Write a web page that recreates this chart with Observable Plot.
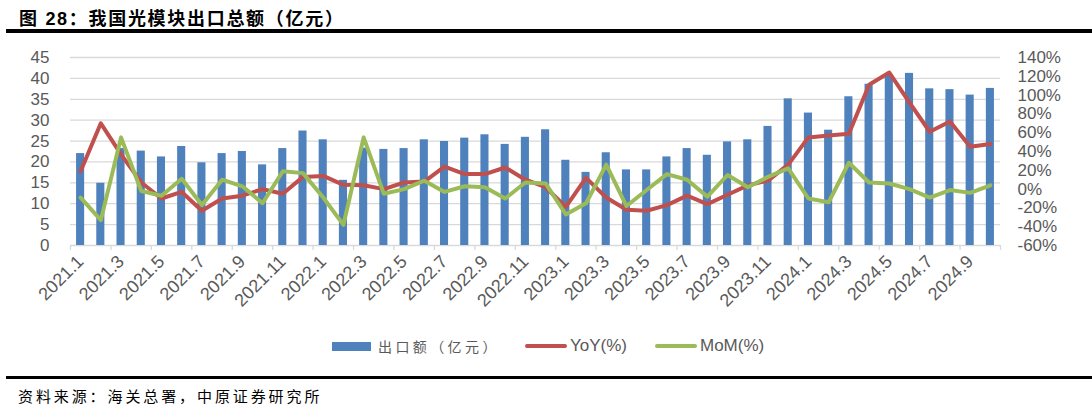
<!DOCTYPE html>
<html><head><meta charset="utf-8">
<script src="https://cdn.jsdelivr.net/npm/d3@7"></script>
<script src="https://cdn.jsdelivr.net/npm/@observablehq/plot@0.6"></script>
<style>
body{margin:0;width:1092px;height:410px;background:#fff;position:relative;overflow:hidden;font-family:"Liberation Sans",Arial,"Noto Sans CJK SC",sans-serif;}
#title{position:absolute;left:19px;top:4px;font-size:18px;font-weight:bold;font-family:"Liberation Sans","Noto Sans CJK SC",sans-serif;letter-spacing:1.7px;color:#000;white-space:nowrap}
.rule{position:absolute;left:6px;right:0;background:#000}
#chart{position:absolute;left:0;top:35px}
#chart svg{overflow:visible}
.lg{position:absolute;white-space:nowrap}
#source{position:absolute;left:18px;top:385px;font-size:15px;letter-spacing:2.9px;font-family:"Noto Sans CJK SC",sans-serif;color:#000;white-space:nowrap}
</style></head>
<body>
<div id="title">图 28：我国光模块出口总额（亿元）</div>
<div class="rule" style="top:29px;height:4px"></div>
<div id="chart"></div>
<div class="lg" style="left:332px;top:342px;width:39px;height:9px;background:#4F81BD"></div>
<div class="lg" style="left:378px;top:336px;font-size:14px;letter-spacing:3.4px;color:#595959;font-family:'Noto Sans CJK SC',sans-serif">出口额（亿元）</div>
<div class="lg" style="left:525px;top:344px;width:42px;height:4px;border-radius:2px;background:#C0504D"></div>
<div class="lg" style="left:570px;top:336px;font-size:17px;color:#595959">YoY(%)</div>
<div class="lg" style="left:655px;top:344px;width:42px;height:4px;border-radius:2px;background:#9BBB59"></div>
<div class="lg" style="left:700px;top:336px;font-size:17px;color:#595959">MoM(%)</div>
<div class="rule" style="top:376px;height:3px"></div>
<div id="source">资料来源：海关总署，中原证券研究所</div>
<script>
const months = ["2021.1","2021.2","2021.3","2021.4","2021.5","2021.6","2021.7","2021.8","2021.9","2021.10","2021.11","2021.12",
"2022.1","2022.2","2022.3","2022.4","2022.5","2022.6","2022.7","2022.8","2022.9","2022.10","2022.11","2022.12",
"2023.1","2023.2","2023.3","2023.4","2023.5","2023.6","2023.7","2023.8","2023.9","2023.10","2023.11","2023.12",
"2024.1","2024.2","2024.3","2024.4","2024.5","2024.6","2024.7","2024.8","2024.9","2024.10"];
const exportValue = [22.0,14.9,23.2,22.6,21.2,23.7,19.8,22.0,22.5,19.3,
23.2,27.4,25.3,15.6,23.3,23.0,23.2,25.3,24.9,25.7,
26.5,24.2,25.9,27.7,20.4,17.5,22.2,18.1,18.1,21.2,
23.2,21.6,24.8,25.3,28.5,35.1,31.7,27.6,35.6,38.6,
40.8,41.2,37.5,37.3,36.0,37.6];
const yoy = [19,70,37,7,-10,-3,-23,-10,-7,0,
-5,13,14,4.5,4,0,7,8,24,16,
16,23,10,2,-19,12,-9,-22,-23,-17,
-7,-16,-6,4,9,26,55,57,59,111,
124,92,61,72,45,48];
const mom = [-9,-33,55,-2,-7,11,-17,10,3,-15,
19,17,-9,-38,55,-5,0,9,-3,3,
2,-10,7,6,-27,-15,26,-18,-1,16,
10,-8,15,2,13,22,-10,-14,28,7,
6,0,-9,-1,-4,4];
const leftTicks = [0,5,10,15,20,25,30,35,40,45];
const pctTicks = [-60,-40,-20,0,20,40,60,80,100,120,140];

// map percent (right axis -60..140) onto left axis units (0..45)
const k = 45/200;
const toLeft = p => (p + 60) * k;

const data = months.map((m,i) => ({m, i, v: exportValue[i], yoy: yoy[i], mom: mom[i]}));
const boundaryTicks = d3.range(0, months.length + 1, 2);
const labelTicks = d3.range(0, months.length, 2).map(i => i + 0.5);

const chart = Plot.plot({
  width: 1092, height: 300,
  marginLeft: 70, marginRight: 92, marginTop: 22, marginBottom: 90,
  x: {domain: [0, months.length], axis: null},
  y: {domain: [0, 45], axis: null},
  style: {fontFamily: '"Liberation Sans", Arial, sans-serif', background: "transparent", color: "#595959"},
  marks: [
    Plot.gridY(leftTicks.filter(t => t > 0), {stroke: "#d9d9d9", strokeOpacity: 1, strokeWidth: 1.3}),
    Plot.ruleY([0], {stroke: "#d9d9d9", strokeWidth: 1.3}),
    Plot.axisX(boundaryTicks, {tickSize: 5, tickFormat: () => "", stroke: "#d9d9d9", strokeWidth: 1.3}),
    Plot.axisX(labelTicks, {tickSize: 0, tickPadding: 13, tickRotate: -45, fontSize: 18, fill: "#595959",
      tickFormat: d => months[Math.round(d - 0.5)]}),
    Plot.rect(data, {x1: d => d.i + 0.3, x2: d => d.i + 0.7, y1: 0, y2: "v", fill: "#4F81BD"}),
    Plot.line(data, {x: d => d.i + 0.5, y: d => toLeft(d.yoy), stroke: "#C0504D", strokeWidth: 4, strokeLinejoin: "round", strokeLinecap: "round"}),
    Plot.line(data, {x: d => d.i + 0.5, y: d => toLeft(d.mom), stroke: "#9BBB59", strokeWidth: 4, strokeLinejoin: "round", strokeLinecap: "round"}),
    Plot.axisY(leftTicks, {anchor: "left", tickSize: 0, tickPadding: 21, fontSize: 17, fill: "#595959", label: null}),
    Plot.axisY(pctTicks.map(toLeft), {anchor: "right", tickSize: 0, tickPadding: 17, fontSize: 17, fill: "#595959", label: null,
      tickFormat: d => Math.round(d / k - 60) + "%"})
  ]
});
document.getElementById("chart").appendChild(chart);
</script>
</body></html>
